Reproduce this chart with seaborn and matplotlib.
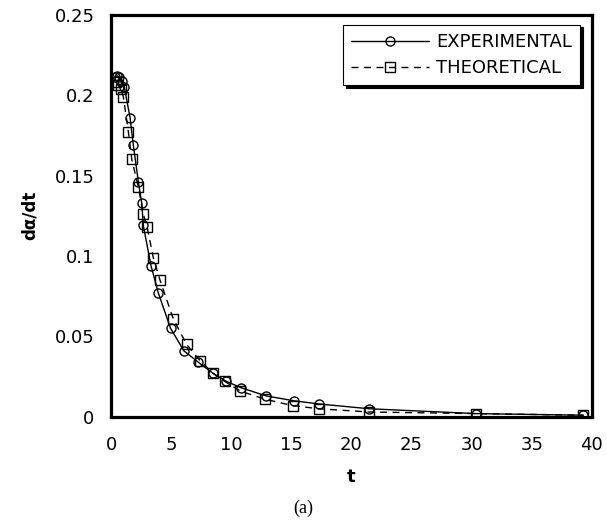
import matplotlib
matplotlib.use("Agg")
import matplotlib.pyplot as plt
import seaborn as sns
import pandas as pd

# Experimental data (circles)
t_exp = [0.3, 0.5, 0.7, 0.9, 1.1, 1.58, 1.85, 2.27, 2.55, 2.68, 3.32, 3.93, 4.95,
         6.06, 7.25, 8.49, 9.6, 10.85, 12.9, 15.2, 17.3, 21.5, 30.4, 39.3]
y_exp = [0.211, 0.212, 0.211, 0.209, 0.205, 0.186, 0.169, 0.146, 0.133, 0.119, 0.094,
         0.077, 0.055, 0.041, 0.034, 0.027, 0.022, 0.018, 0.013, 0.010, 0.008, 0.005,
         0.002, 0.001]

# Theoretical data (squares)
t_theo = [0.4, 0.6, 0.8, 1.02, 1.44, 1.72, 2.27, 2.68, 3.0, 3.51, 4.07, 5.17, 6.28,
          7.39, 8.49, 9.46, 10.76, 12.78, 15.1, 17.3, 21.5, 30.4, 39.3]
y_theo = [0.208, 0.206, 0.204, 0.199, 0.177, 0.160, 0.143, 0.126, 0.118, 0.099, 0.085,
          0.061, 0.045, 0.035, 0.027, 0.022, 0.016, 0.011, 0.007, 0.005, 0.003, 0.002,
          0.001]

x_ticks = [0, 5, 10, 15, 20, 25, 30, 35, 40]
y_ticks = [0, 0.05, 0.1, 0.15, 0.2, 0.25]
y_tick_labels = ["0", "0.05", "0.1", "0.15", "0.2", "0.25"]

sns.set_theme(style="white")
plt.rcParams["font.family"] = ["DejaVu Sans"]
plt.rcParams["text.color"] = "black"
plt.rcParams["axes.labelcolor"] = "black"

fig = plt.figure(figsize=(6.07, 5.23), dpi=100)
ax = fig.add_axes([0.183, 0.203, 0.792, 0.769])

df_exp = pd.DataFrame({"t": t_exp, "y": y_exp})
df_theo = pd.DataFrame({"t": t_theo, "y": y_theo})

sns.lineplot(data=df_exp, x="t", y="y", ax=ax, estimator=None, color="black",
             linewidth=1.0, marker="o", markersize=6.5, markerfacecolor="none",
             markeredgecolor="black", markeredgewidth=1.0, label="EXPERIMENTAL")
sns.lineplot(data=df_theo, x="t", y="y", ax=ax, estimator=None, color="black",
             linewidth=1.0, linestyle=(0, (5, 4)), marker="s", markersize=6.5,
             markerfacecolor="none", markeredgecolor="black", markeredgewidth=1.0,
             label="THEORETICAL")

ax.set_xlim(0, 40)
ax.set_ylim(0, 0.25)
ax.set_xticks(x_ticks)
ax.set_xticklabels([str(v) for v in x_ticks])
ax.set_yticks(y_ticks)
ax.set_yticklabels(y_tick_labels)
ax.tick_params(axis="both", length=0, labelsize=13, colors="black", pad=12)
ax.tick_params(axis="x", pad=14)

for sp in ax.spines.values():
    sp.set_visible(True)
    sp.set_linewidth(2.3)
    sp.set_color("black")

ax.set_xlabel("t", fontsize=13, fontweight="bold", labelpad=10, color="black")
ax.set_ylabel("dα/dt", fontsize=12, fontweight="bold", labelpad=11, color="black")

leg = ax.legend(loc="upper right", bbox_to_anchor=(0.975, 0.975), borderaxespad=0,
                frameon=True, fancybox=False, shadow={"color": "black", "alpha": 1.0},
                fontsize=13, handlelength=4.3, handletextpad=0.4,
                borderpad=0.45, labelspacing=0.45)
leg.get_frame().set_edgecolor("black")
leg.get_frame().set_linewidth(0.8)
leg.get_frame().set_alpha(1.0)
for txt in leg.get_texts():
    txt.set_color("black")

fig.text(0.5, 0.028, "(a)", ha="center", va="center", fontsize=13,
         family=["Liberation Serif", "DejaVu Serif"])

fig.savefig("out.png", dpi=100)
